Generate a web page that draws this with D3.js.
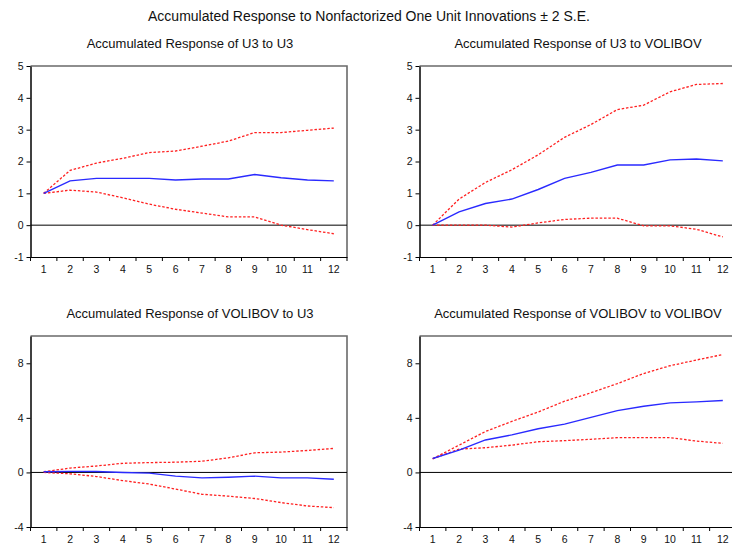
<!DOCTYPE html>
<html><head><meta charset="utf-8">
<script src="https://d3js.org/d3.v7.min.js"></script>
<style>body{margin:0;background:#fff;} text{font-family:"Liberation Sans",Arial,sans-serif;fill:#111;}</style>
</head><body><svg id="c" width="732" height="548"></svg>
<script>
const periods = [1,2,3,4,5,6,7,8,9,10,11,12];
const mainTitle = "Accumulated Response to Nonfactorized One Unit Innovations \u00b1 2 S.E.";
const panelTitles = ["Accumulated Response of U3 to U3","Accumulated Response of U3 to VOLIBOV","Accumulated Response of VOLIBOV to U3","Accumulated Response of VOLIBOV to VOLIBOV"];
// U3 to U3
const u3u3 = [1.00,1.39,1.47,1.47,1.47,1.42,1.45,1.45,1.59,1.49,1.42,1.39];
const u3u3Up = [1.00,1.72,1.95,2.10,2.28,2.33,2.48,2.64,2.91,2.91,2.98,3.05];
const u3u3Lo = [1.00,1.10,1.04,0.86,0.66,0.50,0.38,0.26,0.26,0.00,-0.14,-0.27];
// U3 to VOLIBOV
const u3vo = [0.00,0.42,0.68,0.82,1.12,1.47,1.66,1.89,1.89,2.05,2.08,2.02];
const u3voUp = [0.00,0.82,1.34,1.74,2.21,2.76,3.16,3.63,3.77,4.19,4.42,4.45];
const u3voLo = [0.00,0.00,0.00,-0.06,0.07,0.18,0.22,0.22,-0.02,-0.02,-0.13,-0.37];
// VOLIBOV to U3
const vou3 = [0.05,0.08,0.07,0.00,-0.05,-0.27,-0.40,-0.35,-0.27,-0.40,-0.40,-0.50];
const vou3Up = [0.05,0.32,0.47,0.67,0.72,0.75,0.82,1.07,1.44,1.49,1.61,1.76];
const vou3Lo = [0.00,-0.10,-0.30,-0.60,-0.85,-1.22,-1.60,-1.74,-1.91,-2.21,-2.46,-2.58];
// VOLIBOV to VOLIBOV
const vovo = [1.02,1.64,2.38,2.75,3.20,3.54,4.04,4.53,4.85,5.10,5.17,5.27];
const vovoUp = [1.00,2.00,3.00,3.74,4.43,5.22,5.84,6.51,7.25,7.82,8.24,8.64];
const vovoLo = [1.00,1.71,1.81,2.00,2.25,2.33,2.43,2.55,2.55,2.55,2.30,2.13];
const topTicks = [-1,0,1,2,3,4,5];
const bottomTicks = [-4,0,4,8];

const panels = [
  {title:panelTitles[0], mid:u3u3, up:u3u3Up, lo:u3u3Lo, dom:[-1,5], ticks:topTicks, x:30.5, y:66, tx:190, ty:48},
  {title:panelTitles[1], mid:u3vo, up:u3voUp, lo:u3voLo, dom:[-1,5], ticks:topTicks, x:419.5, y:66, tx:578, ty:48},
  {title:panelTitles[2], mid:vou3, up:vou3Up, lo:vou3Lo, dom:[-4,10], ticks:bottomTicks, x:30.5, y:336, tx:190, ty:318},
  {title:panelTitles[3], mid:vovo, up:vovoUp, lo:vovoLo, dom:[-4,10], ticks:bottomTicks, x:419.5, y:336, tx:578, ty:318}
];
const W = 316.5, H = 191;
const svg = d3.select("#c");
svg.append("text").attr("x",369).attr("y",21).attr("text-anchor","middle").attr("font-size",14).text(mainTitle);

panels.forEach(p=>{
  svg.append("text").attr("x",p.tx).attr("y",p.ty).attr("text-anchor","middle").attr("font-size",13).text(p.title);
  const g = svg.append("g").attr("transform",`translate(${p.x},${p.y})`);
  const x = d3.scaleBand().domain(periods).range([0,W]);
  const y = d3.scaleLinear().domain(p.dom).range([H,0]);
  g.append("path").attr("d",`M0,0H${W}V${H}`).attr("fill","none").attr("stroke","#6a6a6a").attr("stroke-width",1.6);
  g.append("line").attr("x1",0).attr("x2",W).attr("y1",y(0)).attr("y2",y(0)).attr("stroke","#000").attr("stroke-width",1);
  const line = d3.line().x((d,i)=>x(periods[i])+x.bandwidth()/2).y(d=>y(d));
  g.append("path").datum(p.up).attr("d",line).attr("fill","none").attr("stroke","#ff2020").attr("stroke-width",1.3).attr("stroke-dasharray","2.5,1.8");
  g.append("path").datum(p.lo).attr("d",line).attr("fill","none").attr("stroke","#ff2020").attr("stroke-width",1.3).attr("stroke-dasharray","2.5,1.8");
  g.append("path").datum(p.mid).attr("d",line).attr("fill","none").attr("stroke","#2a2aff").attr("stroke-width",1.4);
  const xa = d3.axisBottom(x).tickSize(4).tickSizeOuter(0);
  const xg = g.append("g").attr("transform",`translate(0,${H})`).call(xa);
  xg.selectAll(".tick line").remove();
  xg.select(".domain").attr("stroke","#000").attr("stroke-width",1.2);
  d3.range(0,13).forEach(i=>{
    xg.append("line").attr("x1",i*x.step()).attr("x2",i*x.step()).attr("y1",0).attr("y2",4).attr("stroke","#000");
  });
  xg.selectAll(".tick text").attr("font-size",10.5).attr("fill","#111").attr("dy","0.9em").attr("font-family","Liberation Sans, Arial, sans-serif");
  const ya = d3.axisLeft(y).tickValues(p.ticks).tickFormat(d => String(d)).tickSize(4).tickSizeOuter(0).tickPadding(3);
  const yg = g.append("g").call(ya);
  yg.select(".domain").attr("stroke","#000").attr("stroke-width",1.5);
  yg.selectAll(".tick line").attr("stroke","#000");
  yg.selectAll(".tick text").attr("font-size",10.5).attr("fill","#111").attr("font-family","Liberation Sans, Arial, sans-serif");
});
</script></body></html>
